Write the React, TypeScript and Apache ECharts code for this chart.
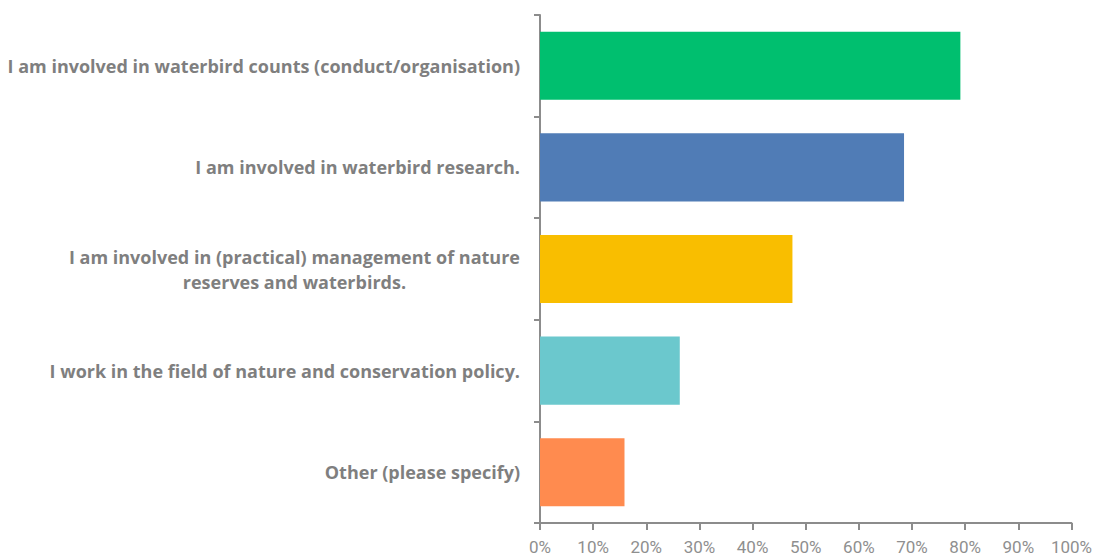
import React, { useEffect, useRef } from "react";
import * as echarts from "echarts";

const categories = [
  "I am involved in waterbird counts (conduct/organisation)",
  "I am involved in waterbird research.",
  "I am involved in (practical) management of nature\nreserves and waterbirds.",
  "I work in the field of nature and conservation policy.",
  "Other (please specify)",
];
const values = [79.1, 68.5, 47.5, 26.3, 15.9];
const colors = ["#00BF6F", "#507CB6", "#F9BE00", "#6BC8CD", "#FF8B4F"];
const xTicks = [0, 10, 20, 30, 40, 50, 60, 70, 80, 90, 100];

export default function App() {
  const ref = useRef<HTMLDivElement>(null);
  useEffect(() => {
    if (!ref.current) return;
    const chart = echarts.init(ref.current, undefined, { renderer: "svg" });
    chart.setOption({
      animation: false,
      backgroundColor: "#ffffff",
      grid: { left: 540, right: 22, top: 15, bottom: 35, containLabel: false },
      xAxis: {
        type: "value",
        min: xTicks[0],
        max: xTicks[xTicks.length - 1],
        interval: 10,
        splitLine: { show: false },
        axisLine: { show: true, lineStyle: { color: "#8c8c8c", width: 2 } },
        axisTick: { show: true, length: 7, lineStyle: { color: "#8c8c8c", width: 2 } },
        axisLabel: {
          formatter: (v: number) => v + "%",
          color: "#8f8f8f",
          fontSize: 17,
          fontFamily: "Roboto",
          margin: 15,
        },
      },
      yAxis: {
        type: "category",
        data: categories,
        inverse: true,
        axisLine: { show: true, lineStyle: { color: "#8c8c8c", width: 2 } },
        axisTick: { show: true, length: 6, lineStyle: { color: "#8c8c8c", width: 2 } },
        axisLabel: {
          margin: 20,
          formatter: (v: string) =>
            v
              .split("\n")
              .map((l) => "{c|" + l + "}")
              .join("\n"),
          rich: {
            c: {
              color: "#7f7f7f",
              fontSize: 18,
              fontWeight: "bold",
              fontFamily: "Open Sans",
              align: "center",
              lineHeight: 25,
            },
          },
        },
      },
      series: [
        {
          type: "bar",
          data: values.map((v, i) => ({
            value: v,
            itemStyle: { color: colors[i] },
          })),
          barCategoryGap: "33%",
        },
      ],
    });
    return () => chart.dispose();
  }, []);
  return (
    <div
      ref={ref}
      style={{ position: "fixed", left: 0, top: 0, width: 1095, height: 558 }}
    />
  );
}
